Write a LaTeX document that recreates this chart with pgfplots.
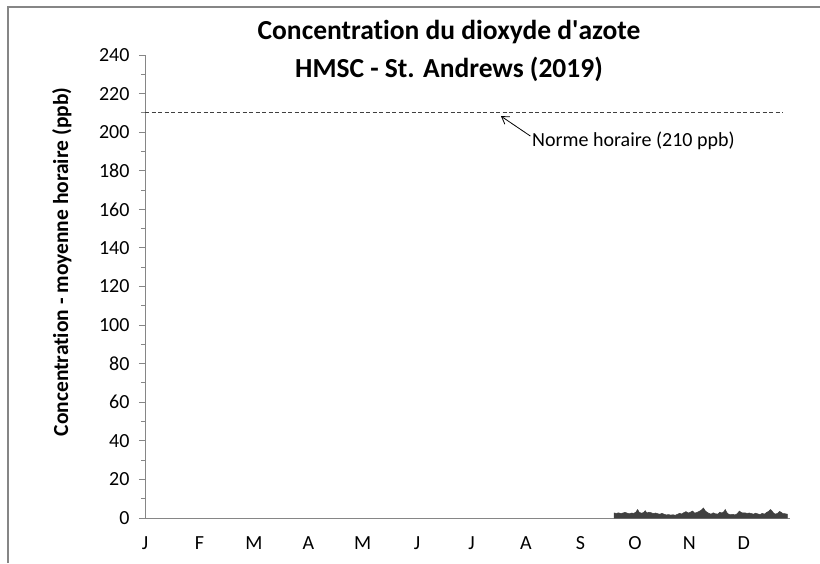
\documentclass[border=0pt]{standalone}
\usepackage{pgfplots}
\pgfplotsset{compat=1.18}
\usepackage{fontspec}
\setmainfont{Carlito}[Ligatures={NoCommon}]
\usetikzlibrary{arrows.meta}
\definecolor{axisgray}{HTML}{868686}
\definecolor{areagray}{HTML}{404040}
\definecolor{dashgray}{HTML}{404040}

\begin{document}
\begin{tikzpicture}
\useasboundingbox (0,0) rectangle (820pt,563pt);
% chart frame (cropped on right and bottom)
\draw[axisgray, line width=1.4pt] (8pt,0pt) -- (8pt,556pt) -- (820pt,556pt);
% title
\node[font=\fontsize{27.5}{32}\selectfont\bfseries] at (449pt,531pt) {Concentration du dioxyde d\textquotesingle azote};
\node[font=\fontsize{27.5}{32}\selectfont\bfseries] at (449pt,494pt) {HMSC - St. Andrews (2019)};

\begin{axis}[
  at={(145pt,45pt)}, anchor=south west,
  scale only axis,
  width=645pt, height=463pt,
  xmin=0, xmax=11.85,
  ymin=0, ymax=240,
  axis lines*=left,
  axis line style={axisgray, line width=1pt},
  xtick={0,1,2,3,4,5,6,7,8,9,10,11},
  xticklabels={J,F,M,A,M,J,J,A,S,O,N,D},
  x tick style={draw=none},
  ytick={0,20,...,240},
  minor y tick num=1,
  tick align=outside,
  major tick length=6pt,
  minor tick length=4pt,
  y tick style={axisgray, line width=1pt},
  ticklabel style={font=\fontsize{20}{24}\selectfont, text=black},
  /pgf/number format/assume math mode=true,
  xticklabel style={yshift=-9pt},
  yticklabel style={xshift=-6pt},
  ylabel={Concentration - moyenne horaire (ppb)},
  every axis y label/.style={at={(axis description cs:-0.129,0.553)}, rotate=90, anchor=center, font=\fontsize{21.5}{24}\selectfont\bfseries},
  clip=false,
]
% hourly NO2 (approx.)
\addplot[fill=areagray, draw=areagray, line width=0.5pt] coordinates {
(8.62,0) (8.62,2.6) (8.66,2.4) (8.70,2.7) (8.74,2.3) (8.78,2.6) (8.82,2.9)
(8.86,2.5) (8.90,2.2) (8.94,2.6) (8.98,2.4) (9.02,3.1) (9.05,4.4) (9.08,3.0)
(9.12,2.5) (9.16,2.8) (9.19,3.8) (9.22,2.6) (9.26,3.0) (9.30,2.7) (9.34,2.3)
(9.38,2.6) (9.42,2.2) (9.46,2.0) (9.50,2.4) (9.54,1.9) (9.58,1.6) (9.62,1.8)
(9.66,1.5) (9.70,1.7) (9.74,1.4) (9.78,1.9) (9.82,2.4) (9.86,2.1) (9.90,2.8)
(9.94,3.3) (9.98,2.6) (10.02,3.0) (10.06,3.6) (10.10,2.5) (10.14,2.9) (10.18,3.4)
(10.22,4.1) (10.26,5.2) (10.29,3.8) (10.32,3.1) (10.36,2.4) (10.40,2.0) (10.44,2.7)
(10.48,2.2) (10.52,2.0) (10.56,3.0) (10.60,2.6) (10.64,3.4) (10.66,4.4) (10.69,2.8)
(10.72,2.0) (10.76,1.7) (10.80,1.9) (10.84,1.6) (10.88,2.2) (10.92,3.6) (10.95,2.9)
(10.98,2.6) (11.02,2.7) (11.06,2.4) (11.10,2.6) (11.14,2.3) (11.18,2.0) (11.22,2.5)
(11.26,2.1) (11.30,1.8) (11.34,2.4) (11.38,2.0) (11.42,2.9) (11.46,3.5) (11.49,4.4)
(11.52,3.6) (11.55,2.5) (11.58,2.0) (11.62,2.4) (11.66,3.4) (11.69,2.9) (11.72,2.3)
(11.76,2.2) (11.80,2.0) (11.80,0)
} \closedcycle;
% hourly standard
\addplot[dashgray, line width=1pt, dash pattern=on 4pt off 2.5pt] coordinates {(0,210) (11.72,210)};
\draw[-{Straight Barb[length=7pt, width=9pt]}, line width=0.8pt] (axis cs:7.08,198) -- (axis cs:6.54,208.3);
\node[anchor=west, font=\fontsize{20}{24}\selectfont, inner sep=0pt] at (axis cs:7.11,195.5) {Norme horaire (210 ppb)};
\end{axis}
\end{tikzpicture}
\end{document}
